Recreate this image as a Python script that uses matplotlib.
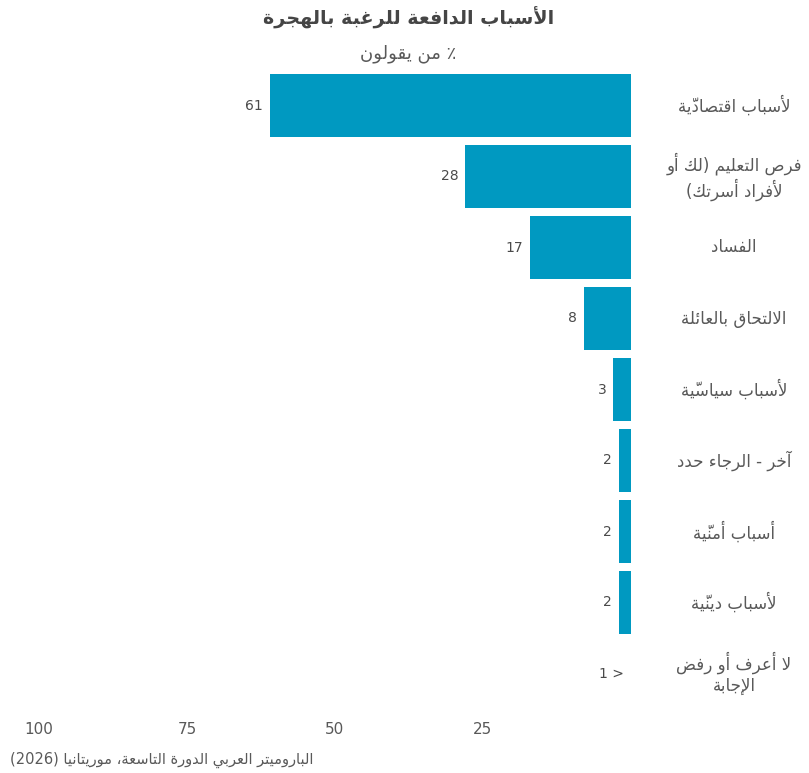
import matplotlib
matplotlib.use("Agg")
import matplotlib.pyplot as plt
import matplotlib.transforms as mtransforms

plt.rcParams['font.family'] = ['DejaVu Sans']

# --- data ---
categories = [
    "لأسباب اقتصاديّة",
    "فرص التعليم (لك أو\nلأفراد أسرتك)",
    "الفساد",
    "الالتحاق بالعائلة",
    "لأسباب سياسيّة",
    "آخر - الرجاء حدد",
    "أسباب أمنيّة",
    "لأسباب دينيّة",
    "لا أعرف أو رفض\nالإجابة",
]
values = [61, 28, 17, 8, 3, 2, 2, 2, 0]
value_labels = ["61", "28", "17", "8", "3", "2", "2", "2", "< 1"]
x_ticks = [100, 75, 50, 25]

title = "الأسباب الدافعة للرغبة بالهجرة"
subtitle = "٪ من يقولون"
source = "الباروميتر العربي الدورة التاسعة، موريتانيا (2026)"

BAR_COLOR = "#0099c1"
TEXT_COLOR = "#595959"

# --- minimal arabic shaping (matplotlib has no complex text layout) ---
LETTERS = "ءآأؤإئابةتثجحخدذرزسشصضطظعغفقكلمنهوىي"
N_FORMS = [1, 2, 2, 2, 2, 4, 2, 4, 2, 4, 4, 4, 4, 4, 2, 2, 2, 2,
           4, 4, 4, 4, 4, 4, 4, 4, 4, 4, 4, 4, 4, 4, 4, 2, 2, 4]
FORMS = {}
_code = 0xFE80
for _ch, _n in zip(LETTERS, N_FORMS):
    FORMS[_ch] = [chr(_code + k) for k in range(_n)]   # isolated, final, initial, medial
    _code += _n
LAM_ALEF = {"آ": 0xFEF5, "أ": 0xFEF7, "إ": 0xFEF9, "ا": 0xFEFB}
MARKS = {chr(c) for c in range(0x064B, 0x0653)}
MIRROR = {"(": ")", ")": "(", "<": ">", ">": "<"}


def shape(text):
    out = []
    n = len(text)
    i = 0
    while i < n:
        ch = text[i]
        if ch in MARKS:
            if out:
                out[-1] += ch
            i += 1
            continue
        if ch not in FORMS:
            out.append(ch)
            i += 1
            continue
        p = i - 1
        while p >= 0 and text[p] in MARKS:
            p -= 1
        join_prev = p >= 0 and text[p] in FORMS and len(FORMS[text[p]]) == 4
        nx = i + 1
        while nx < n and text[nx] in MARKS:
            nx += 1
        if ch == "ل" and nx < n and text[nx] in LAM_ALEF:
            out.append(chr(LAM_ALEF[text[nx]] + (1 if join_prev else 0)))
            i = nx + 1
            continue
        forms = FORMS[ch]
        if len(forms) == 1:
            out.append(forms[0])
            i += 1
            continue
        join_next = len(forms) == 4 and nx < n and text[nx] in FORMS
        if join_prev and join_next:
            g = forms[3]
        elif join_prev:
            g = forms[1]
        elif join_next:
            g = forms[2]
        else:
            g = forms[0]
        out.append(g)
        i += 1
    return out


def rtl(text):
    lines = []
    for line in text.split("\n"):
        clusters = [MIRROR.get(c, c) for c in shape(line)[::-1]]
        res, run = [], []
        for c in clusters:
            if c.isdigit():
                run.append(c)
            else:
                res.extend(run[::-1])
                run = []
                res.append(c)
        res.extend(run[::-1])
        lines.append("".join(res))
    return "\n".join(lines)


# --- figure ---
fig = plt.figure(figsize=(8.09, 7.73), dpi=100)
ax = fig.add_axes([39 / 809, 1 - 709 / 773, (631 - 39) / 809, (709 - 70) / 773])

y = list(range(len(categories)))
ax.barh(y, values, height=0.89, color=BAR_COLOR)
ax.set_xlim(100, 0)
ax.set_ylim(len(categories) - 0.5, -0.5)

for yi, v, lab in zip(y, values, value_labels):
    ax.annotate(rtl(lab), (v, yi), xytext=(-5, 0), textcoords="offset points",
                ha="right", va="center", fontsize=10, color="#4a4a4a")

lbl_tf = mtransforms.blended_transform_factory(fig.transFigure, ax.transData)
for yi, cat in zip(y, categories):
    ax.text(734 / 809, yi, rtl(cat), transform=lbl_tf, ha="center", va="center",
            multialignment="center", fontsize=12, color=TEXT_COLOR, linespacing=1.2)

ax.set_xticks(x_ticks)
ax.set_xticklabels([str(t) for t in x_ticks])
ax.tick_params(axis="x", length=0, pad=9, labelsize=11, labelcolor=TEXT_COLOR)
ax.set_yticks([])
for s in ax.spines.values():
    s.set_visible(False)

fig.text(0.505, 1 - 18 / 773, rtl(title), ha="center", va="center",
         fontsize=13.8, fontweight="bold", color="#454545")
fig.text(0.505, 1 - 54 / 773, rtl(subtitle), ha="center", va="center",
         fontsize=13, color=TEXT_COLOR)
fig.text(10 / 809, 1 - 760 / 773, rtl(source), ha="left", va="center",
         fontsize=10.5, color=TEXT_COLOR)

fig.savefig("out.png", dpi=100)
